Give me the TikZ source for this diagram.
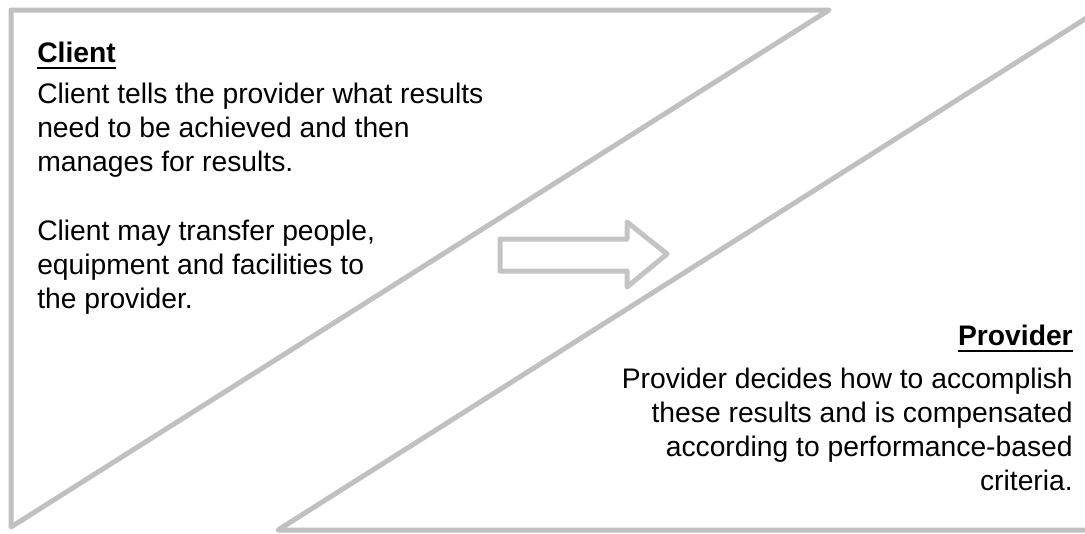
\documentclass[tikz,border=0pt]{standalone}
\usepackage{fontspec}
\setmainfont{Liberation Sans}
\definecolor{linegray}{RGB}{192,192,192}
\definecolor{arrowgray}{RGB}{196,196,196}
\begin{document}
\begin{tikzpicture}[x=0.75pt,y=-0.75pt,
  shapeline/.style={draw=linegray,line width=3.75pt,line join=round,line cap=round},
  arrowline/.style={draw=arrowgray,line width=3.75pt,line join=round},
  body/.style={inner sep=0pt,font=\fontsize{21.2pt}{25.5pt}\selectfont},
  title/.style={inner sep=0pt,font=\fontsize{21.2pt}{25.5pt}\selectfont\bfseries},
  uline/.style={draw=black,line width=1.5pt}]
\useasboundingbox (0,0) rectangle (1085,533);
\begin{scope}
\clip (0,0) rectangle (1085,533);
% left triangle (client)
\draw[shapeline] (11,10) -- (829,10) -- (11,527) -- cycle;
% right triangle (provider)
\draw[shapeline] (278,530) -- (1096,12) -- (1096,530) -- cycle;
% arrow
\draw[arrowline] (500,239) -- (627,239) -- (627,222) -- (667,254) -- (627,287) -- (627,271) -- (500,271) -- cycle;
\end{scope}
% client text
\node[title,anchor=base west] (ct) at (37,62) {Client};
\draw[uline] ([yshift=-4.5pt]ct.base west) -- ([yshift=-4.5pt]ct.base east);
\node[body,anchor=base west,align=left] (c1) at (37,171) {Client tells the provider what results\\need to be achieved and then\\manages for results.};
\node[body,anchor=base west,align=left] (c2) at (37,308) {Client may transfer people,\\equipment and facilities to\\the provider.};
% provider text
\node[title,anchor=base east] (pt) at (1073,345) {Provider};
\draw[uline] ([yshift=-4.5pt]pt.base west) -- ([yshift=-4.5pt]pt.base east);
\node[body,anchor=base east,align=right] (p1) at (1073,490) {Provider decides how to accomplish\\these results and is compensated\\according to performance-based\\criteria.};
\end{tikzpicture}
\end{document}
